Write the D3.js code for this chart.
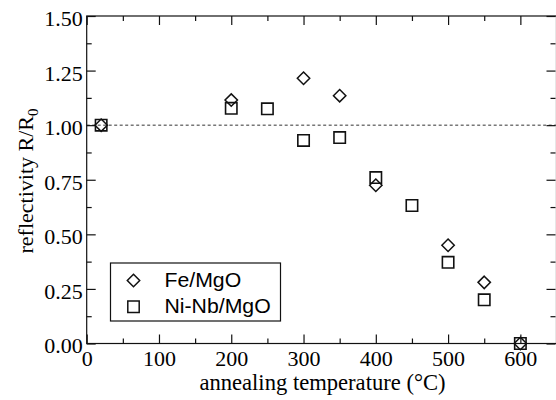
<!DOCTYPE html>
<html>
<head>
<meta charset="utf-8">
<script src="https://cdn.jsdelivr.net/npm/d3@7"></script>
<style>
  html, body { margin: 0; padding: 0; background: #fff; }
  svg { display: block; }
</style>
</head>
<body>
<svg id="chart" width="556" height="400"></svg>
<script>
// Annealing temperature (°C) and normalised reflectivity R/R0
const feTemps   = [20, 200, 300, 350, 400, 500, 550, 600];
const feValues  = [1.00, 1.115, 1.215, 1.135, 0.725, 0.45, 0.28, 0.00];
const niTemps   = [20, 200, 250, 300, 350, 400, 450, 500, 550, 600];
const niValues  = [1.00, 1.077, 1.075, 0.93, 0.943, 0.76, 0.632, 0.372, 0.20, 0.00];
const seriesNames = ["Fe/MgO", "Ni-Nb/MgO"];
const xTicks = [0, 100, 200, 300, 400, 500, 600];
const yTicks = [0, 0.25, 0.5, 0.75, 1.0, 1.25, 1.5];
const referenceLevel = 1.0;

const svg = d3.select("#chart");
const L = 86.7, R = 556.5, T = 16, B = 343.5;
const x = d3.scaleLinear().domain([0, 650]).range([L, R]);
const y = d3.scaleLinear().domain([0, 1.5]).range([B, T]);

const ink = "#111";
const serif = "'Liberation Serif', 'Times New Roman', serif";
const sans = "'Liberation Sans', Arial, sans-serif";

// dashed reference line at R/R0 = 1
svg.append("line")
  .attr("x1", L).attr("x2", R)
  .attr("y1", y(referenceLevel)).attr("y2", y(referenceLevel))
  .attr("stroke", "#333").attr("stroke-width", 1)
  .attr("stroke-dasharray", "3,2.5");

// frame
svg.append("rect")
  .attr("x", L).attr("y", T).attr("width", R - L).attr("height", B - T)
  .attr("fill", "none").attr("stroke", ink).attr("stroke-width", 1.2);

// inward ticks on all four sides
const xMinor = d3.range(50, 650, 100);
const yMinor = d3.range(0.125, 1.5, 0.25);
function tickAxis(axisGen, transform, major, minor, majorLen, minorLen, showLabels) {
  const gMaj = svg.append("g").attr("transform", transform)
    .call(axisGen.tickValues(major).tickSizeInner(majorLen).tickSizeOuter(0)
      .tickFormat(showLabels ? null : ""));
  gMaj.select(".domain").remove();
  gMaj.selectAll("line").attr("stroke", ink).attr("stroke-width", 1.2);
  const gMin = svg.append("g").attr("transform", transform)
    .call(axisGen.tickValues(minor).tickSizeInner(minorLen).tickSizeOuter(0).tickFormat(""));
  gMin.select(".domain").remove();
  gMin.selectAll("line").attr("stroke", ink).attr("stroke-width", 1.2);
  return gMaj;
}

const gx = tickAxis(d3.axisBottom(x), `translate(0,${B})`, xTicks, xMinor, -9, -5, true);
gx.selectAll("text").attr("font-family", serif).attr("font-size", 22)
  .attr("fill", "#000").attr("y", 7).attr("dy", "0.71em");
tickAxis(d3.axisTop(x), `translate(0,${T})`, xTicks, xMinor, -9, -5, false);

const gy = tickAxis(d3.axisLeft(y), `translate(${L},0)`, yTicks, yMinor, -9, -5, true);
gy.selectAll("text").text(d => d3.format(".2f")(d))
  .attr("font-family", serif).attr("font-size", 22).attr("fill", "#000")
  .attr("x", -4).attr("dy", "0.43em");
tickAxis(d3.axisRight(y), `translate(${R - 1},0)`, yTicks, yMinor, -9, -5, false);

// axis titles
svg.append("text")
  .attr("x", 322.5).attr("y", 390)
  .attr("text-anchor", "middle")
  .attr("font-family", serif).attr("font-size", 22.6).attr("fill", "#000")
  .text("annealing temperature (°C)");

const yt = svg.append("text")
  .attr("transform", "translate(33,181) rotate(-90)")
  .attr("text-anchor", "middle")
  .attr("font-family", serif).attr("font-size", 22).attr("fill", "#000");
yt.append("tspan").text("reflectivity R/R");
yt.append("tspan").attr("font-size", 15).attr("dy", 5).text("0");

// markers
const diamond = s => `M0,${-s}L${s},0L0,${s}L${-s},0Z`;
const square = s => `M${-s},${-s}H${s}V${s}H${-s}Z`;

const niData = niTemps.map((t, i) => ({ t, v: niValues[i] }));
const feData = feTemps.map((t, i) => ({ t, v: feValues[i] }));

svg.append("g").selectAll("path").data(niData).join("path")
  .attr("transform", d => `translate(${x(d.t)},${y(d.v)})`)
  .attr("d", square(5.7))
  .attr("fill", "none").attr("stroke", ink).attr("stroke-width", 1.6);

svg.append("g").selectAll("path").data(feData).join("path")
  .attr("transform", d => `translate(${x(d.t)},${y(d.v)})`)
  .attr("d", diamond(6.2))
  .attr("fill", "none").attr("stroke", ink).attr("stroke-width", 1.5);

// legend
const lg = svg.append("g");
lg.append("rect")
  .attr("x", 110.5).attr("y", 263).attr("width", 170).attr("height", 58)
  .attr("fill", "#fff").attr("stroke", ink).attr("stroke-width", 1.2);
const legendShapes = [diamond(6.2), square(5.7)];
seriesNames.forEach((name, i) => {
  const cy = 280.5 + i * 26.3;
  lg.append("path").attr("transform", `translate(133.5,${cy})`)
    .attr("d", legendShapes[i]).attr("fill", "none")
    .attr("stroke", ink).attr("stroke-width", 1.5);
  lg.append("text")
    .attr("transform", `translate(164.5,${cy + 6}) scale(1.09,1)`)
    .attr("font-family", sans).attr("font-size", 19.5).attr("fill", "#000")
    .text(name);
});
</script>
</body>
</html>
